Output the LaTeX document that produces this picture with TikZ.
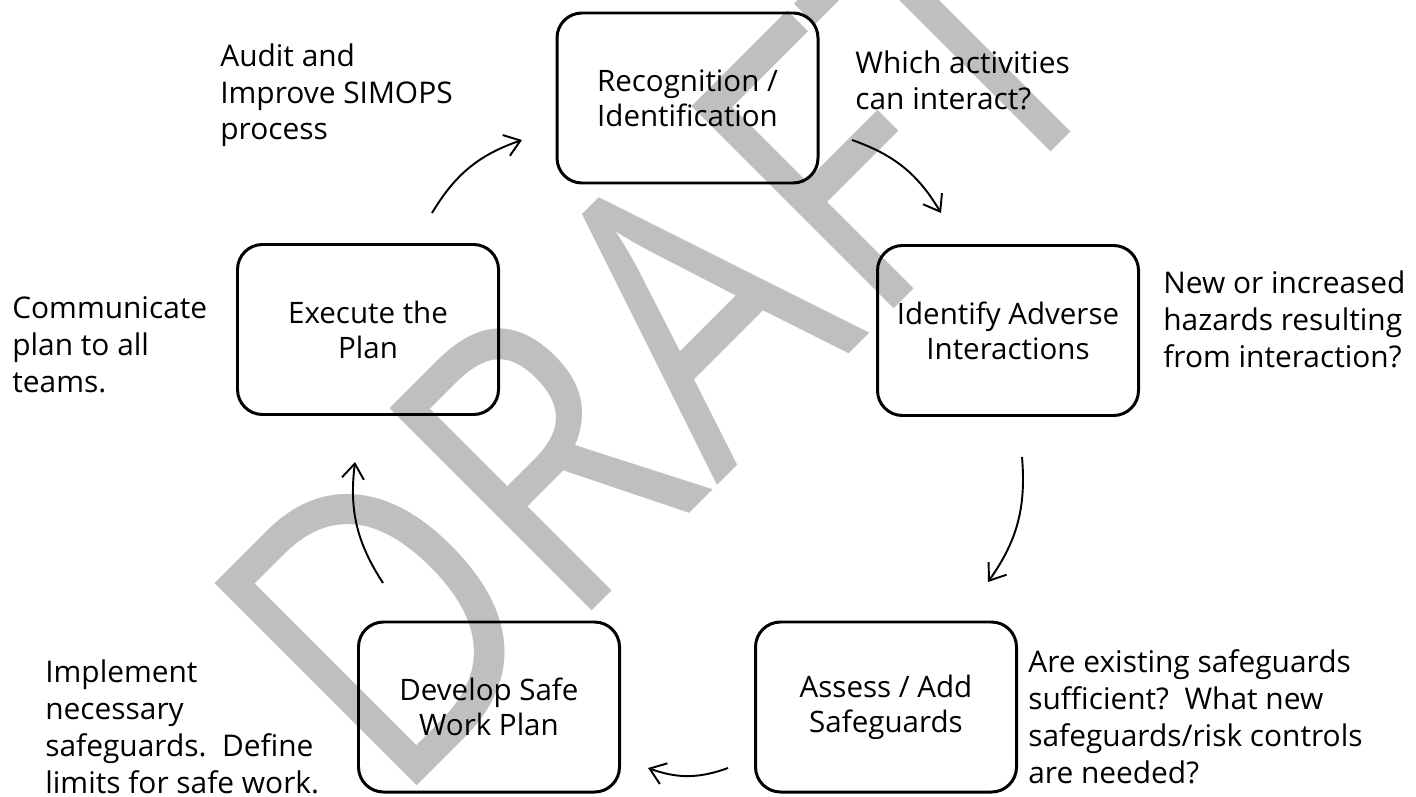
\documentclass[tikz,border=0pt]{standalone}
\usepackage{fontspec}
\setmainfont{Open Sans}
\usetikzlibrary{arrows.meta}

\definecolor{draftgray}{HTML}{BFBFBF}

\tikzset{
    phase/.style={draw, line width=1.7pt, rounded corners=0.5cm,
        minimum width=5.22cm, minimum height=3.4cm, align=center, inner sep=0pt,
        font=\fontsize{16.8}{20}\selectfont},
    note/.style={anchor=base west, align=left, inner sep=0pt,
        font=\fontsize{17}{21}\selectfont},
    flow/.style={->, line width=1.1pt, bend left=20},
}

\begin{document}
\begin{tikzpicture}[>={Straight Barb[length=3mm,width=4.4mm]}]
        \useasboundingbox (0, 0) rectangle (28.32, -15.94);
        % watermark
        \node[text=draftgray, rotate=45, xscale=0.85, inner sep=0pt,
            font=\fontsize{228}{228}\selectfont] (draft) at (13.18, -6.82) {DRAFT};
        % phases
        \node[phase] (recog) at (13.75, -1.96) {Recognition /\\Identification};
        \node[phase] (adverse) at (20.16, -6.61) {Identify Adverse\\Interactions};
        \node[phase] (assess) at (17.72, -14.14) {Assess / Add\\Safeguards};
        \node[phase] (develop) at (9.78, -14.14) {Develop Safe\\Work Plan};
        \node[phase] (execute) at (7.36, -6.59) {Execute the\\Plan};
        % notes (anchored at last line)
        \node[note] (audit) at (4.40, -2.80) {Audit and\\Improve SIMOPS\\process};
        \node[note] (which) at (17.10, -2.20) {Which activities\\can interact?};
        \node[note] (hazards) at (23.26, -7.34) {New or increased\\hazards resulting\\from interaction?};
        \node[note] (existing) at (20.56, -15.66) {Are existing safeguards\\sufficient?\ \ What new\\safeguards/risk controls\\are needed?};
        \node[note] (implement) at (0.90, -15.86) {Implement\\necessary\\safeguards.\ \ Define\\limits for safe work.};
        \node[note] (communicate) at (0.24, -7.84) {Communicate\\plan to all\\teams.};
        % arrow ends
        \coordinate (a1) at (8.64, -4.26);
        \coordinate (b1) at (10.44, -2.80);
        \coordinate (a2) at (17.04, -2.80);
        \coordinate (b2) at (18.82, -4.26);
        \coordinate (a3) at (20.44, -9.14);
        \coordinate (b3) at (19.76, -11.64);
        \coordinate (a4) at (14.56, -15.36);
        \coordinate (b4) at (12.96, -15.36);
        \coordinate (a5) at (7.66, -11.66);
        \coordinate (b5) at (7.10, -9.24);
        \draw[flow] (a1) to (b1);
        \draw[flow] (a2) to (b2);
        \draw[flow] (a3) to (b3);
        \draw[flow] (a4) to (b4);
        \draw[flow] (a5) to (b5);
\end{tikzpicture}
\end{document}
